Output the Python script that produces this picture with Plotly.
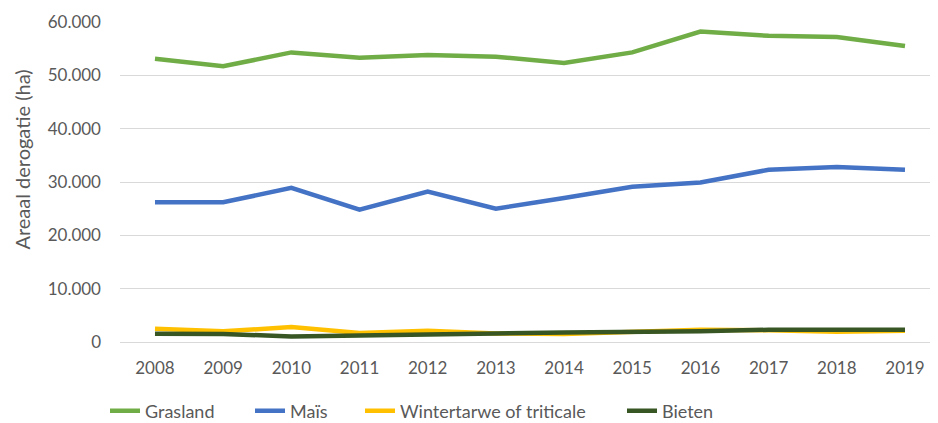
import plotly.graph_objects as go

years = ["2008", "2009", "2010", "2011", "2012", "2013", "2014", "2015", "2016", "2017", "2018", "2019"]
grasland = [53100, 51700, 54300, 53300, 53800, 53500, 52300, 54300, 58200, 57400, 57200, 55500]
mais = [26200, 26200, 28900, 24800, 28200, 25000, 27000, 29100, 29900, 32300, 32800, 32300]
wintertarwe = [2500, 2000, 2800, 1700, 2100, 1600, 1500, 2000, 2300, 2200, 1900, 2100]
bieten = [1550, 1500, 1050, 1300, 1500, 1600, 1800, 1800, 2000, 2300, 2300, 2300]

W, H = 930, 415  # page body has an 8px default margin

series = [
    ("Grasland", grasland, "#70AD47", "legend", 105),
    ("Maïs", mais, "#4472C4", "legend2", 250),
    ("Wintertarwe of triticale", wintertarwe, "#FFC000", "legend3", 360),
    ("Bieten", bieten, "#375623", "legend4", 622),
]

fig = go.Figure()
for name, vals, col, lg, _ in series:
    fig.add_trace(go.Scatter(x=years, y=vals, name=name, mode="lines", legend=lg,
                             line=dict(color=col, width=4.5)))

font = "Lato, Carlito, sans-serif"
legends = {}
for name, vals, col, lg, lx in series:
    legends[lg] = dict(orientation="h", xref="container", yref="container",
                       x=(lx - 8) / W, xanchor="left", y=12 / H, yanchor="middle",
                       font=dict(size=18, color="#595959"),
                       bgcolor="rgba(0,0,0,0)")

fig.update_layout(
    width=W, height=H,
    margin=dict(l=112, r=0, t=14, b=81),
    paper_bgcolor="white", plot_bgcolor="white",
    separators=",.",
    font=dict(family=font, size=17, color="#595959"),
    showlegend=True,
    xaxis=dict(type="category", range=[-0.513, 11.484], showgrid=False, zeroline=False,
               showline=False, ticks="", ticklabelstandoff=14, automargin=False,
               tickfont=dict(size=17, color="#595959")),
    yaxis=dict(range=[0, 60000], tickvals=[0, 10000, 20000, 30000, 40000, 50000, 60000],
               tickformat=",d", showgrid=True, gridcolor="#D9D9D9", gridwidth=1,
               zeroline=True, zerolinecolor="#D9D9D9", zerolinewidth=1,
               ticks="", ticklabelstandoff=18, automargin=False,
               tickfont=dict(size=17, color="#595959")),
    annotations=[dict(text="Areaal derogatie (ha)", textangle=-90, showarrow=False,
                      xref="paper", yref="paper", x=(22 - 120) / 818, y=0.57,
                      xanchor="center", yanchor="middle",
                      font=dict(size=20, color="#595959"))],
    **legends,
)

fig.write_html("out.html")
